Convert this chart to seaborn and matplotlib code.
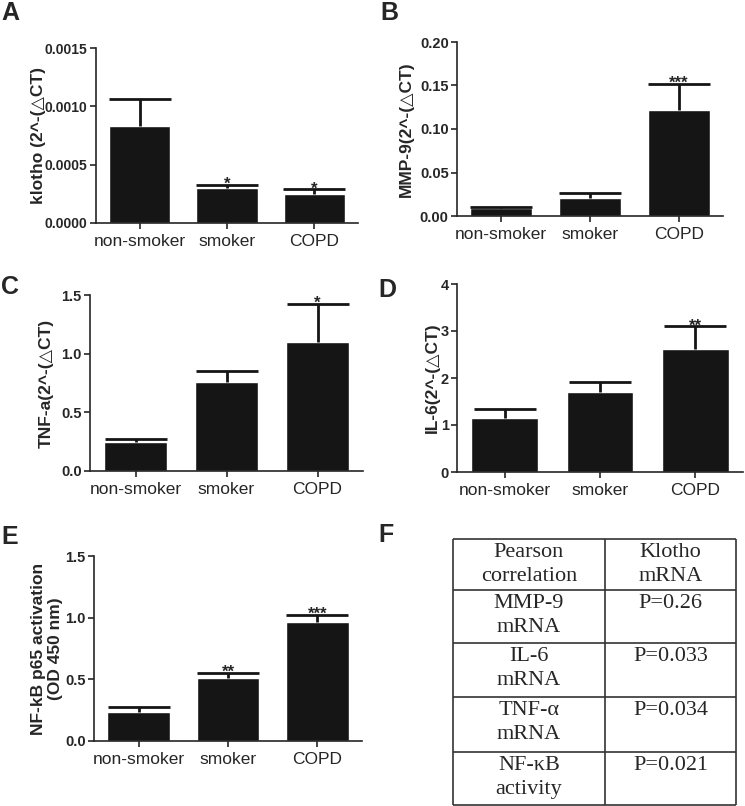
import numpy as np
import pandas as pd
import matplotlib
matplotlib.use('Agg')
import matplotlib.pyplot as plt
import seaborn as sns
from matplotlib.ticker import FormatStrFormatter, MultipleLocator

# ---- data ----
groups = ['non-smoker', 'smoker', 'COPD']

klotho_mean = [0.00083, 0.00030, 0.00025]
klotho_err = [0.00023, 0.000025, 0.00004]
klotho_stars = ['', '*', '*']

mmp9_mean = [0.0095, 0.021, 0.122]
mmp9_err = [0.0012, 0.005, 0.030]
mmp9_stars = ['', '', '***']

tnf_mean = [0.25, 0.757, 1.10]
tnf_err = [0.025, 0.095, 0.325]
tnf_stars = ['', '', '*']

il6_mean = [1.15, 1.70, 2.62]
il6_err = [0.19, 0.21, 0.48]
il6_stars = ['', '', '**']

nfkb_mean = [0.233, 0.509, 0.964]
nfkb_err = [0.046, 0.046, 0.057]
nfkb_stars = ['', '**', '***']

table_left = ['Pearson\ncorrelation', 'MMP-9\nmRNA', 'IL-6\nmRNA', 'TNF-\u03b1\nmRNA', 'NF-\u03baB\nactivity']
table_right = ['Klotho\nmRNA', 'P=0.26', 'P=0.033', 'P=0.034', 'P=0.021']

sns.set_style('ticks')
plt.rcParams['font.family'] = ['Liberation Sans', 'DejaVu Sans']

W, H = 745, 806
fig = plt.figure(figsize=(W / 100, H / 100), dpi=100)
BAR = '#151515'


def px_axes(left, top, right, bottom):
    return fig.add_axes([left / W, 1 - bottom / H, (right - left) / W, (bottom - top) / H])


def bar_panel(box, mean, err, stars, ylabel, ymax, step, fmt, label_x, tick_size=10.5):
    ax = px_axes(*box)
    df = pd.DataFrame({'group': groups, 'value': mean})
    sns.barplot(data=df, x='group', y='value', color=BAR, saturation=1,
                width=0.7, errorbar=None, ax=ax)
    eb = ax.errorbar(range(len(groups)), mean, yerr=[np.zeros(len(mean)), err],
                     fmt='none', ecolor=BAR, elinewidth=2, capsize=22,
                     capthick=2, zorder=3)
    eb[1][0].set_visible(False)
    for i, s in enumerate(stars):
        if s:
            ax.annotate(s, (i, mean[i] + err[i]), xytext=(0, -3),
                        textcoords='offset points', ha='center', va='baseline',
                        fontsize=12, fontweight='bold')
    ax.set_xlim(-0.5, 2.5)
    ax.set_ylim(0, ymax)
    ax.yaxis.set_major_locator(MultipleLocator(step))
    ax.yaxis.set_major_formatter(FormatStrFormatter(fmt))
    ax.set_xlabel('')
    ax.set_ylabel(ylabel, fontsize=12.5, fontweight='bold', va='center')
    ax.yaxis.set_label_coords((label_x - box[0]) / (box[2] - box[0]), 0.5)
    ax.tick_params(axis='y', labelsize=tick_size, width=1.2, length=4, pad=2)
    ax.tick_params(axis='x', labelsize=12.5, width=1.2, length=4, pad=4)
    for t in ax.get_yticklabels():
        t.set_fontweight('bold')
    for sp in ['left', 'bottom']:
        ax.spines[sp].set_linewidth(1.2)
    sns.despine(ax=ax)
    return ax


bar_panel((96, 48, 358, 223), klotho_mean, klotho_err, klotho_stars,
          'klotho (2^-(\u25b3CT)', 0.0015, 0.0005, '%.4f', 38, tick_size=10)
bar_panel((457, 42, 723, 216), mmp9_mean, mmp9_err, mmp9_stars,
          'MMP-9(2^-(\u25b3CT)', 0.20, 0.05, '%.2f', 406)
bar_panel((90, 295, 363, 471), tnf_mean, tnf_err, tnf_stars,
          'TNF-a(2^-(\u25b3CT)', 1.5, 0.5, '%.1f', 46)
bar_panel((457, 284, 743, 472), il6_mean, il6_err, il6_stars,
          'IL-6(2^-(\u25b3CT)', 4, 1, '%d', 432)
bar_panel((94, 556, 362, 741), nfkb_mean, nfkb_err, nfkb_stars,
          'NF-kB p65 activation\n(OD 450 nm)', 1.5, 0.5, '%.1f', 47)

# ---- panel F: correlation table ----
ax_t = px_axes(453, 539, 736, 805)
ax_t.set_xlim(0, 283)
ax_t.set_ylim(266, 0)
ax_t.axis('off')
row_edges = [0, 51, 104, 158, 213, 266]
col_split = 152
ax_t.hlines(row_edges, 0, 283, color='#333333', lw=1.2, clip_on=False)
ax_t.vlines([0, col_split, 283], 0, 266, color='#333333', lw=1.2, clip_on=False)
serif = ['Liberation Serif', 'DejaVu Serif']
for r in range(len(table_left)):
    top = row_edges[r] + 4
    ax_t.text(col_split / 2, top, table_left[r], ha='center', va='top',
              fontsize=16, family=serif, linespacing=1.35)
    ax_t.text((col_split + 283) / 2, top, table_right[r], ha='center', va='top',
              fontsize=16, family=serif, linespacing=1.35)

# ---- panel letters ----
for letter, x, y in [('A', 1, 1), ('B', 380, 1), ('C', 1, 275), ('D', 378, 278),
                     ('E', 1, 525), ('F', 378, 523)]:
    fig.text(x / W, 1 - y / H, letter, ha='left', va='top', fontsize=18,
             fontweight='bold')

fig.savefig('out.png', dpi=100)
